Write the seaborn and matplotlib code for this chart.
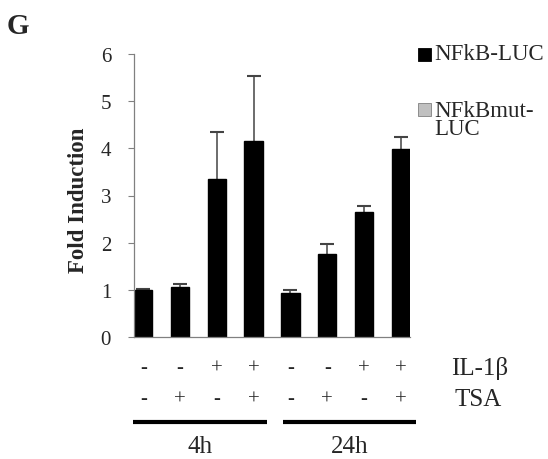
import matplotlib
matplotlib.use("Agg")
import matplotlib.pyplot as plt
import matplotlib.transforms as mtransforms
from matplotlib.patches import Rectangle
import seaborn as sns
import pandas as pd

# values (fold induction, upper error)
conditions = ["c1", "c2", "c3", "c4", "c5", "c6", "c7", "c8"]
induction = [1.00, 1.06, 3.34, 4.16, 0.94, 1.75, 2.65, 3.99]
err_up = [0.01, 0.07, 1.00, 1.38, 0.05, 0.23, 0.13, 0.25]
il1b = ["-", "-", "+", "+", "-", "-", "+", "+"]
tsa = ["-", "+", "-", "+", "-", "+", "-", "+"]
groups = ["4h", "24h"]
legend_labels = ["NFkB-LUC", "NFkBmut-\nLUC"]

df = pd.DataFrame({"cond": conditions, "fold": induction})

sns.set_style("white")
plt.rcParams["font.family"] = ["Liberation Serif", "DejaVu Serif"]

W, H = 548, 460
fig = plt.figure(figsize=(W / 100, H / 100), dpi=100)
ax = fig.add_axes([134 / W, (H - 338) / H, 276 / W, (338 - 55) / H])

sns.barplot(data=df, x="cond", y="fold", order=conditions, color="black",
            width=0.5, saturation=1, errorbar=None, ax=ax)
for p in ax.patches:
    p.set_edgecolor("black")
    p.set_zorder(4)

# one-sided error bars: only the upper half shows above the bars
xs = list(range(len(conditions)))
ax.errorbar(xs, induction, yerr=err_up, fmt="none",
            ecolor="#444444", elinewidth=1.1, capsize=5, capthick=1.5, zorder=2)

ax.set_xlim(-0.25, len(conditions) - 0.75)
ax.set_ylim(0, 6)
ax.set_yticks(range(7))
ax.set_xticks([])
ax.set_xlabel("")
ax.set_ylabel("")
ax.tick_params(axis="y", direction="out", length=4.5, width=0.8, color="#808080",
               pad=12, labelsize=15, left=True)
sns.despine(ax=ax)
for s in ["left", "bottom"]:
    ax.spines[s].set_color("#808080")
    ax.spines[s].set_linewidth(0.9)
    ax.spines[s].set_zorder(5)

# treatment rows under the bars
tr = mtransforms.blended_transform_factory(ax.transData, fig.transFigure)
for i in xs:
    ax.text(i, (H - 369) / H, il1b[i], transform=tr, ha="center", va="center", fontsize=15)
    ax.text(i, (H - 400) / H, tsa[i], transform=tr, ha="center", va="center", fontsize=15)
ax.text(8.37, (H - 369) / H, "IL-1β", transform=tr, ha="left", va="center", fontsize=18)
ax.text(8.45, (H - 400) / H, "TSA", transform=tr, ha="left", va="center", fontsize=18)

# time bars
spans = [(-0.28, 3.36), (3.81, 7.41)]
for (a, b), g in zip(spans, groups):
    ax.plot([a, b], [(H - 422.5) / H] * 2, transform=tr, color="black", lw=3,
            solid_capstyle="butt", clip_on=False)
    ax.text((a + b) / 2, (H - 447) / H, g, transform=tr, ha="center", va="center",
            fontsize=18)

# legend
fig.patches.append(Rectangle((418 / W, (H - 62) / H), 13 / W, 13 / H,
                             transform=fig.transFigure, facecolor="black",
                             edgecolor="black", lw=0.6))
fig.patches.append(Rectangle((418 / W, (H - 117) / H), 13 / W, 13 / H,
                             transform=fig.transFigure, facecolor="#c0c0c0",
                             edgecolor="#808080", lw=0.6))
fig.text(434 / W, (H - 55) / H, legend_labels[0], ha="left", va="center", fontsize=16.5)
fig.text(434 / W, (H - 101) / H, legend_labels[1], ha="left", va="top", fontsize=16.5,
         linespacing=0.8)

fig.text(78 / W, (H - 200) / H, "Fold Induction", rotation=90, ha="center",
         va="center", fontsize=16.5, fontweight="bold")
fig.text(7 / W, (H - 34) / H, "G", ha="left", va="baseline", fontsize=21,
         fontweight="bold")

fig.savefig("out.png", dpi=100)
